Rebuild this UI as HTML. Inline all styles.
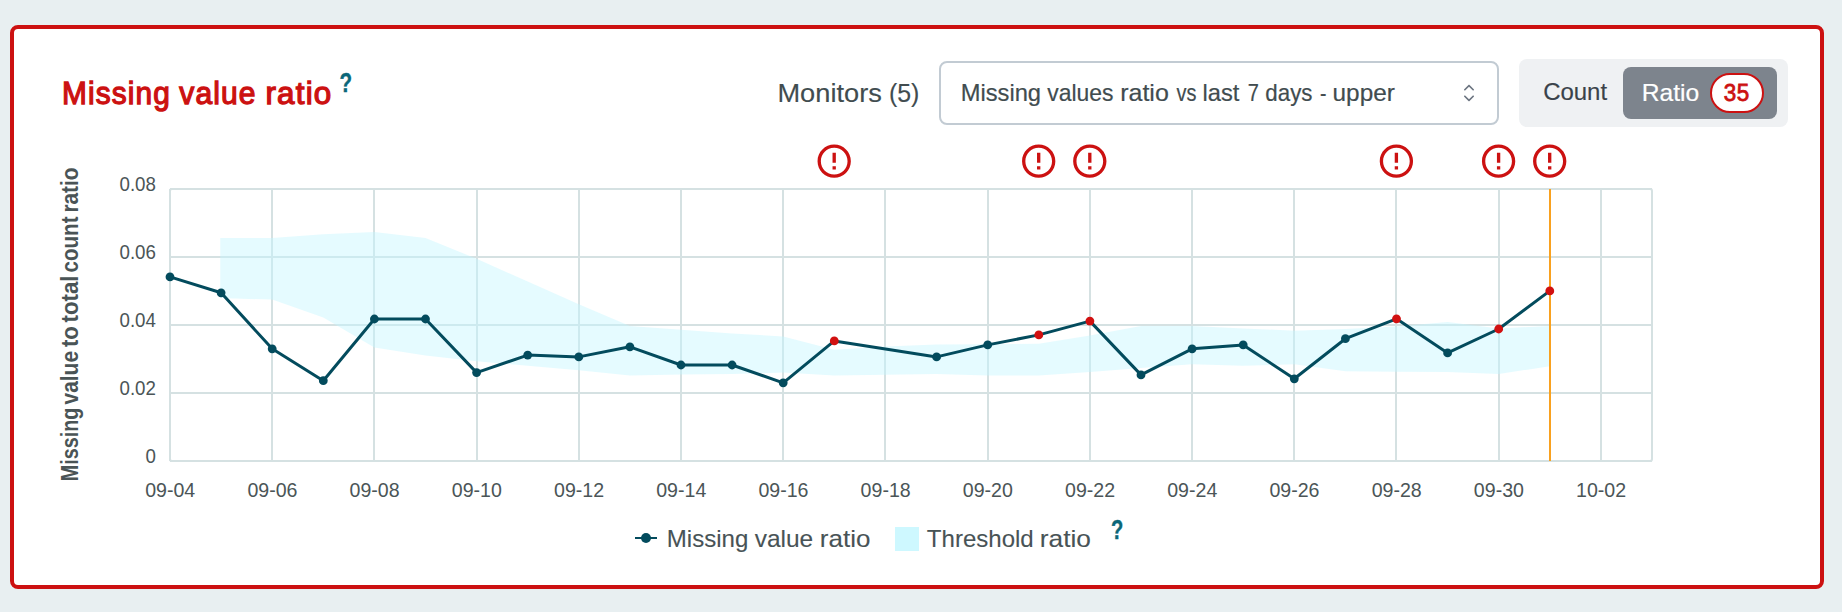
<!DOCTYPE html>
<html lang="en">
<head>
<meta charset="utf-8">
<title>Missing value ratio</title>
<style>
*{box-sizing:border-box;margin:0;padding:0}
html,body{width:1842px;height:612px}
body{background:#e8eff1;font-family:"Liberation Sans",sans-serif;position:relative}
.card{position:absolute;left:10px;top:25px;width:1814px;height:564px;background:#fff;border:4px solid #cc1111;border-radius:8px}
.t{position:absolute;left:0;top:0;line-height:1;white-space:nowrap;font-style:normal}
.t .w{position:absolute;display:block;line-height:1;transform-origin:0 0}
.select{position:absolute;left:939px;top:61px;width:560px;height:64px;border:2px solid #c2cbd3;border-radius:8px;background:#fff}
.chev{position:absolute;left:1454.9px;top:78.9px}
.seg{position:absolute;left:1519px;top:59px;width:269px;height:68px;background:#eff1f3;border-radius:8px}
.seg-active{position:absolute;left:1623px;top:67px;width:154px;height:52px;background:#7d848d;border-radius:8px}
.pill{position:absolute;left:1710px;top:73px;width:54px;height:40px;border:2px solid #cc1111;border-radius:20px;background:#fff}
svg.chart{position:absolute;left:0;top:0}
</style>
</head>
<body>
<section class="card"></section>
<header>
<h2 class="t title" style="font-size:31.8px;font-weight:400;color:#cc1111;-webkit-text-stroke:1.3px #cc1111;letter-spacing:1.2px;"><span class="w" id="w_title_0" style="left:61px;top:78px;transform:translateX(0.92px) scaleX(0.9376)">Missing</span> <span class="w" id="w_title_1" style="left:179px;top:78px;transform:translateX(0.25px) scaleX(0.9441)">value</span> <span class="w" id="w_title_2" style="left:265px;top:78px;transform:translateX(0.48px) scaleX(0.9864)">ratio</span></h2>
<span class="t help1" style="font-size:28px;font-weight:700;color:#0b6779;-webkit-text-stroke:0.4px #0b6779;"><span class="w" id="w_help1_0" style="left:339px;top:69px;transform:translateX(0.51px) scaleX(0.7367)">?</span></span>
<label class="t monitors" style="font-size:25.6px;font-weight:400;color:#414c4f;-webkit-text-stroke:0.15px #414c4f;"><span class="w" id="w_monitors_0" style="left:777px;top:81px;transform:translateX(0.45px) scaleX(1.0635)">Monitors</span> <span class="w" id="w_monitors_1" style="left:888px;top:81px;transform:translateX(0.9px) scaleX(0.9737)">(5)</span></label>
<div class="select"></div>
<span class="t selval" style="font-size:23.6px;font-weight:400;color:#414c4f;-webkit-text-stroke:0.2px #414c4f;"><span class="w" id="w_selval_0" style="left:960px;top:82px;transform:translateX(0.7px) scaleX(1.0045)">Missing</span> <span class="w" id="w_selval_1" style="left:1047px;top:82px;transform:translateX(0.2px) scaleX(0.971)">values</span> <span class="w" id="w_selval_2" style="left:1120px;top:82px;transform:translateX(0.19px) scaleX(1.0597)">ratio</span> <span class="w" id="w_selval_3" style="left:1176px;top:82px;transform:translateX(0.6px) scaleX(0.8444)">vs</span> <span class="w" id="w_selval_4" style="left:1202px;top:82px;transform:translateX(0.54px) scaleX(1.0052)">last</span> <span class="w" id="w_selval_5" style="left:1247px;top:82px;transform:translateX(0.75px) scaleX(0.85)">7</span> <span class="w" id="w_selval_6" style="left:1265px;top:82px;transform:translateX(0.3px) scaleX(0.9462)">days</span> <span class="w" id="w_selval_7" style="left:1319px;top:82px;transform:translateX(0.88px) scaleX(0.8167)">-</span> <span class="w" id="w_selval_8" style="left:1332px;top:82px;transform:translateX(0.57px) scaleX(1.0322)">upper</span></span>
<svg class="chev" width="28" height="28" viewBox="0 0 15 15" fill="#6b7480"><path fill-rule="evenodd" clip-rule="evenodd" d="M4.93179 5.43179C4.75605 5.60753 4.75605 5.89245 4.93179 6.06819C5.10753 6.24392 5.39245 6.24392 5.56819 6.06819L7.49999 4.13638L9.43179 6.06819C9.60753 6.24392 9.89245 6.24392 10.0682 6.06819C10.2439 5.89245 10.2439 5.60753 10.0682 5.43179L7.81819 3.18179C7.73379 3.0974 7.61933 3.04999 7.49999 3.04999C7.38064 3.04999 7.26618 3.0974 7.18179 3.18179L4.93179 5.43179ZM10.0682 9.56819C10.2439 9.39245 10.2439 9.10753 10.0682 8.93179C9.89245 8.75606 9.60753 8.75606 9.43179 8.93179L7.49999 10.8636L5.56819 8.93179C5.39245 8.75606 5.10753 8.75606 4.93179 8.93179C4.75605 9.10753 4.75605 9.39245 4.93179 9.56819L7.18179 11.8182C7.35753 11.9939 7.64245 11.9939 7.81819 11.8182L10.0682 9.56819Z"/></svg>
<div class="seg"></div>
<span class="t count" style="font-size:24.2px;font-weight:400;color:#3a424a;-webkit-text-stroke:0.15px #3a424a;"><span class="w" id="w_count_0" style="left:1543px;top:80px;transform:translateX(0.13px) scaleX(0.991)">Count</span></span>
<div class="seg-active"></div>
<span class="t ratio" style="font-size:23.8px;font-weight:400;color:#ffffff;-webkit-text-stroke:0.2px #ffffff;"><span class="w" id="w_ratio_0" style="left:1641px;top:81px;transform:translateX(0.77px) scaleX(1.0346)">Ratio</span></span>
<div class="pill"></div>
<span class="t badge" style="font-size:23.2px;font-weight:400;color:#cc1111;-webkit-text-stroke:0.8px #cc1111;letter-spacing:0.6px;"><span class="w" id="w_badge_0" style="left:1723px;top:82px;transform:translateX(0.75px) scaleX(0.9649)">35</span></span>
</header>
<main>
<svg class="chart" width="1842" height="612" viewBox="0 0 1842 612">
<defs><symbol id="alert" viewBox="0 0 24 24"><path fill="#cc1111" d="M11 15h2v2h-2zm0-8h2v6h-2zm.99-5C6.47 2 2 6.48 2 12s4.47 10 9.99 10C17.52 22 22 17.52 22 12S17.52 2 11.99 2zM12 20c-4.42 0-8-3.58-8-8s3.58-8 8-8 8 3.58 8 8-3.58 8-8 8z"/></symbol></defs>
<g stroke="#d5e1e2" stroke-width="2" fill="none"><line x1="170" x2="1652" y1="189" y2="189"/><line x1="170" x2="1652" y1="257" y2="257"/><line x1="170" x2="1652" y1="325" y2="325"/><line x1="170" x2="1652" y1="393" y2="393"/><line x1="170" x2="1652" y1="461" y2="461"/><line x1="170" x2="170" y1="189" y2="461"/><line x1="272" x2="272" y1="189" y2="461"/><line x1="374" x2="374" y1="189" y2="461"/><line x1="477" x2="477" y1="189" y2="461"/><line x1="579" x2="579" y1="189" y2="461"/><line x1="681" x2="681" y1="189" y2="461"/><line x1="783" x2="783" y1="189" y2="461"/><line x1="885" x2="885" y1="189" y2="461"/><line x1="988" x2="988" y1="189" y2="461"/><line x1="1090" x2="1090" y1="189" y2="461"/><line x1="1192" x2="1192" y1="189" y2="461"/><line x1="1294" x2="1294" y1="189" y2="461"/><line x1="1396" x2="1396" y1="189" y2="461"/><line x1="1499" x2="1499" y1="189" y2="461"/><line x1="1601" x2="1601" y1="189" y2="461"/><rect x="170" y="189" width="1482" height="272" rx="2"/></g>
<path d="M220.3 237.9 L272.2 237.9 L323.3 234.3 L374.4 231.9 L425.5 237.9 L476.6 258.8 L527.7 281.6 L578.8 304.2 L629.9 326 L681 329.7 L732.1 333.4 L783.2 336.5 L834.3 349.8 L885.4 346.4 L936.6 344.4 L987.7 344.3 L1038.8 343.8 L1089.9 335.5 L1141 326 L1192.1 326 L1243.2 328.4 L1294.3 330.7 L1345.4 329 L1396.5 326.4 L1447.6 322.1 L1498.7 328.5 L1549.8 325.9 L1549.8 366.2 L1498.7 374 L1447.6 371.9 L1396.5 371.7 L1345.4 371.2 L1294.3 364.2 L1243.2 365.8 L1192.1 364.2 L1141 368.1 L1089.9 372 L1038.8 375.5 L987.7 375.5 L936.6 373.9 L885.4 374.7 L834.3 375.5 L783.2 372.6 L732.1 373.9 L681 374.4 L629.9 375.5 L578.8 370.2 L527.7 365.8 L476.6 361.3 L425.5 355.6 L374.4 347.5 L323.3 317.4 L272.2 299.6 L220.3 298.1Z" fill="#c4f6ff" fill-opacity="0.44"/>
<line x1="1550" x2="1550" y1="189" y2="461" stroke="#f9a11f" stroke-width="2"/>
<path d="M170 276.9 L221.1 292.8 L272.2 348.8 L323.3 380.7 L374.4 319 L425.5 319 L476.6 372.6 L527.7 355.1 L578.8 356.9 L629.9 346.8 L681 365 L732.1 365 L783.2 382.8 L834.3 340.9 L936.6 356.9 L987.7 344.9 L1038.8 334.9 L1089.9 321.1 L1141 374.9 L1192.1 348.8 L1243.2 344.9 L1294.3 378.8 L1345.4 338.7 L1396.5 318.8 L1447.6 352.9 L1498.7 329 L1549.8 290.9" fill="none" stroke="#034b5d" stroke-width="3" stroke-linejoin="round"/>
<g fill="#034b5d"><circle cx="170" cy="276.9" r="4.4"/><circle cx="221.1" cy="292.8" r="4.4"/><circle cx="272.2" cy="348.8" r="4.4"/><circle cx="323.3" cy="380.7" r="4.4"/><circle cx="374.4" cy="319" r="4.4"/><circle cx="425.5" cy="319" r="4.4"/><circle cx="476.6" cy="372.6" r="4.4"/><circle cx="527.7" cy="355.1" r="4.4"/><circle cx="578.8" cy="356.9" r="4.4"/><circle cx="629.9" cy="346.8" r="4.4"/><circle cx="681" cy="365" r="4.4"/><circle cx="732.1" cy="365" r="4.4"/><circle cx="783.2" cy="382.8" r="4.4"/><circle cx="936.6" cy="356.9" r="4.4"/><circle cx="987.7" cy="344.9" r="4.4"/><circle cx="1141" cy="374.9" r="4.4"/><circle cx="1192.1" cy="348.8" r="4.4"/><circle cx="1243.2" cy="344.9" r="4.4"/><circle cx="1294.3" cy="378.8" r="4.4"/><circle cx="1345.4" cy="338.7" r="4.4"/><circle cx="1447.6" cy="352.9" r="4.4"/></g>
<g fill="#d11010"><circle cx="834.3" cy="340.9" r="4.4"/><circle cx="1038.8" cy="334.9" r="4.4"/><circle cx="1089.9" cy="321.1" r="4.4"/><circle cx="1396.5" cy="318.8" r="4.4"/><circle cx="1498.7" cy="329" r="4.4"/><circle cx="1549.8" cy="290.9" r="4.4"/></g>
<use href="#alert" x="814.2" y="141.2" width="40" height="40"/><use href="#alert" x="1018.7" y="141.2" width="40" height="40"/><use href="#alert" x="1069.8" y="141.2" width="40" height="40"/><use href="#alert" x="1376.4" y="141.2" width="40" height="40"/><use href="#alert" x="1478.6" y="141.2" width="40" height="40"/><use href="#alert" x="1529.7" y="141.2" width="40" height="40"/>
<line x1="635" x2="657" y1="538" y2="538" stroke="#034b5d" stroke-width="2"/><circle cx="646" cy="538" r="5" fill="#034b5d"/>
<rect x="895" y="527" width="24" height="24" fill="#cef8ff"/>
</svg>
<div class="t ylab" style="font-size:24px;font-weight:700;color:#4a5456;transform-origin:0 0;transform:translate(78.3px,480.1px) rotate(-90deg);"><span class="w" id="w_ylab_0" style="left:-2px;top:-20px;transform:translateX(0.78px) scaleX(0.824)">Missing</span> <span class="w" id="w_ylab_1" style="left:75px;top:-20px;transform:translateX(0.6px) scaleX(0.8726)">value</span> <span class="w" id="w_ylab_2" style="left:133px;top:-20px;transform:translateX(0.1px) scaleX(0.9208)">to</span> <span class="w" id="w_ylab_3" style="left:157px;top:-20px;transform:translateX(0.6px) scaleX(0.9287)">total</span> <span class="w" id="w_ylab_4" style="left:207px;top:-20px;transform:translateX(0.6px) scaleX(0.8572)">count</span> <span class="w" id="w_ylab_5" style="left:267px;top:-20px;transform:translateX(0.48px) scaleX(0.869)">ratio</span></div>
<span class="t yt" style="font-size:20px;font-weight:400;color:#4b5557;"><span class="w" id="w_yt189_0" style="left:119px;top:174px;transform:translateX(0.52px) scaleX(0.935)">0.08</span></span><span class="t yt" style="font-size:20px;font-weight:400;color:#4b5557;"><span class="w" id="w_yt257_0" style="left:119px;top:242px;transform:translateX(0.52px) scaleX(0.935)">0.06</span></span><span class="t yt" style="font-size:20px;font-weight:400;color:#4b5557;"><span class="w" id="w_yt325_0" style="left:119px;top:310px;transform:translateX(0.52px) scaleX(0.935)">0.04</span></span><span class="t yt" style="font-size:20px;font-weight:400;color:#4b5557;"><span class="w" id="w_yt393_0" style="left:119px;top:378px;transform:translateX(0.52px) scaleX(0.935)">0.02</span></span><span class="t yt" style="font-size:20px;font-weight:400;color:#4b5557;"><span class="w" id="w_yt461_0" style="left:145px;top:446px;transform:translateX(0.52px) scaleX(0.935)">0</span></span>
<span class="t xt" style="font-size:20px;font-weight:400;color:#4b5557;"><span class="w" id="w_xt0_0" style="left:145px;top:480px;transform:translateX(0.17px) scaleX(0.9785)">09-04</span></span><span class="t xt" style="font-size:20px;font-weight:400;color:#4b5557;"><span class="w" id="w_xt1_0" style="left:247px;top:480px;transform:translateX(0.38px) scaleX(0.9785)">09-06</span></span><span class="t xt" style="font-size:20px;font-weight:400;color:#4b5557;"><span class="w" id="w_xt2_0" style="left:349px;top:480px;transform:translateX(0.59px) scaleX(0.9785)">09-08</span></span><span class="t xt" style="font-size:20px;font-weight:400;color:#4b5557;"><span class="w" id="w_xt3_0" style="left:451px;top:480px;transform:translateX(0.79px) scaleX(0.9785)">09-10</span></span><span class="t xt" style="font-size:20px;font-weight:400;color:#4b5557;"><span class="w" id="w_xt4_0" style="left:554px;top:480px;transform:translateX(0px) scaleX(0.9785)">09-12</span></span><span class="t xt" style="font-size:20px;font-weight:400;color:#4b5557;"><span class="w" id="w_xt5_0" style="left:656px;top:480px;transform:translateX(0.21px) scaleX(0.9785)">09-14</span></span><span class="t xt" style="font-size:20px;font-weight:400;color:#4b5557;"><span class="w" id="w_xt6_0" style="left:758px;top:480px;transform:translateX(0.42px) scaleX(0.9785)">09-16</span></span><span class="t xt" style="font-size:20px;font-weight:400;color:#4b5557;"><span class="w" id="w_xt7_0" style="left:860px;top:480px;transform:translateX(0.62px) scaleX(0.9785)">09-18</span></span><span class="t xt" style="font-size:20px;font-weight:400;color:#4b5557;"><span class="w" id="w_xt8_0" style="left:962px;top:480px;transform:translateX(0.83px) scaleX(0.9785)">09-20</span></span><span class="t xt" style="font-size:20px;font-weight:400;color:#4b5557;"><span class="w" id="w_xt9_0" style="left:1065px;top:480px;transform:translateX(0.04px) scaleX(0.9785)">09-22</span></span><span class="t xt" style="font-size:20px;font-weight:400;color:#4b5557;"><span class="w" id="w_xt10_0" style="left:1167px;top:480px;transform:translateX(0.24px) scaleX(0.9785)">09-24</span></span><span class="t xt" style="font-size:20px;font-weight:400;color:#4b5557;"><span class="w" id="w_xt11_0" style="left:1269px;top:480px;transform:translateX(0.45px) scaleX(0.9785)">09-26</span></span><span class="t xt" style="font-size:20px;font-weight:400;color:#4b5557;"><span class="w" id="w_xt12_0" style="left:1371px;top:480px;transform:translateX(0.66px) scaleX(0.9785)">09-28</span></span><span class="t xt" style="font-size:20px;font-weight:400;color:#4b5557;"><span class="w" id="w_xt13_0" style="left:1473px;top:480px;transform:translateX(0.86px) scaleX(0.9785)">09-30</span></span><span class="t xt" style="font-size:20px;font-weight:400;color:#4b5557;"><span class="w" id="w_xt14_0" style="left:1576px;top:480px;transform:translateX(0.07px) scaleX(0.9785)">10-02</span></span>
<span class="t leg1" style="font-size:23.6px;font-weight:400;color:#485356;-webkit-text-stroke:0.1px #485356;"><span class="w" id="w_leg1_0" style="left:666px;top:528px;transform:translateX(0.78px) scaleX(1.0199)">Missing</span> <span class="w" id="w_leg1_1" style="left:754px;top:528px;transform:translateX(0.7px) scaleX(1.0376)">value</span> <span class="w" id="w_leg1_2" style="left:819px;top:528px;transform:translateX(0.8px) scaleX(1.1022)">ratio</span></span>
<span class="t leg2" style="font-size:23.6px;font-weight:400;color:#485356;-webkit-text-stroke:0.1px #485356;"><span class="w" id="w_leg2_0" style="left:926px;top:528px;transform:translateX(0.85px) scaleX(1.0188)">Threshold</span> <span class="w" id="w_leg2_1" style="left:1039px;top:528px;transform:translateX(0.78px) scaleX(1.1156)">ratio</span></span>
<span class="t help2" style="font-size:28px;font-weight:700;color:#0b6779;-webkit-text-stroke:0.4px #0b6779;"><span class="w" id="w_help2_0" style="left:1110px;top:516px;transform:translateX(0.93px) scaleX(0.72)">?</span></span>
</main>
</body>
</html>
